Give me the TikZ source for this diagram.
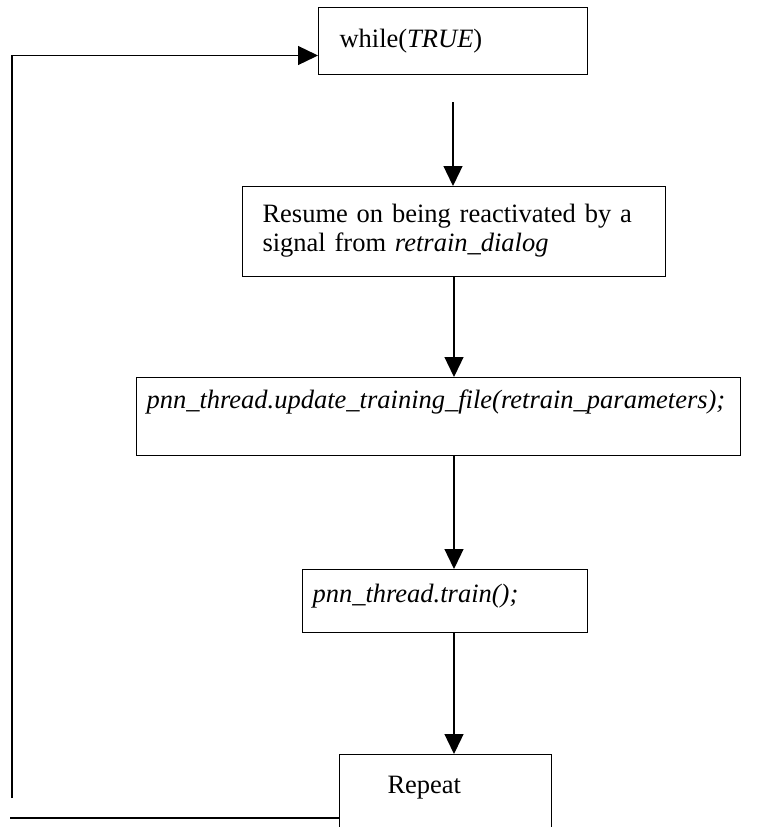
\documentclass[tikz,border=0pt]{standalone}
\usepackage{fontspec}
\setmainfont{Liberation Serif}
\usetikzlibrary{arrows.meta}

\tikzset{
    stepbox/.style={draw, line width=1pt, anchor=north west, inner ysep=0pt, align=left,
        font=\fontsize{26.5}{29}\selectfont},
    flow/.style={-{Triangle[length=20pt, width=19pt]}, line width=1.3pt},
    plain/.style={line width=1.3pt},
}

\begin{document}
\begin{tikzpicture}[x=1pt, y=-1pt]
    \path[use as bounding box] (0,0) rectangle (768,827);
    \clip (0,0) rectangle (768,827);

    % Boxes
    \node[stepbox, inner xsep=21pt, text width=227pt, text height=40pt, text depth=27pt]
        (while) at (318,7) {while(\textit{TRUE})};
    \node[stepbox, inner xsep=20pt, text width=383pt, text height=36pt, text depth=54pt]
        (resume) at (242,186) {Resume on being reactivated by a\\signal from \textit{retrain\_dialog}};
    \node[stepbox, inner xsep=10pt, text width=584pt, text height=31pt, text depth=47pt]
        (update) at (136,377) {\textit{pnn\_thread.update\_training\_file(retrain\_parameters);}};
    \node[stepbox, inner xsep=10pt, text width=265pt, text height=33pt, text depth=30pt]
        (train) at (302,569) {\textit{pnn\_thread.train();}};
    \node[stepbox, inner xsep=48pt, text width=116pt, text height=39pt, text depth=80pt]
        (repeat) at (339,754) {Repeat};

    % Flow down
    \draw[flow, shorten <=27pt] (while.south) -- (while.south |- resume.north);
    \draw[flow] (resume.south) -- (resume.south |- update.north);
    \draw[flow] (update.south -| resume.south) -- (train.north -| resume.south);
    \draw[flow] (train.south -| resume.south) -- (repeat.north -| resume.south);

    % Loop back
    \coordinate (loopbot) at (12,798);
    \coordinate (loopend) at (10,818);
    \draw[plain] (repeat.west |- loopend) -- (loopend);
    \draw[flow] (loopbot) |- ([yshift=-14.5pt]while.west);

\end{tikzpicture}
\end{document}
